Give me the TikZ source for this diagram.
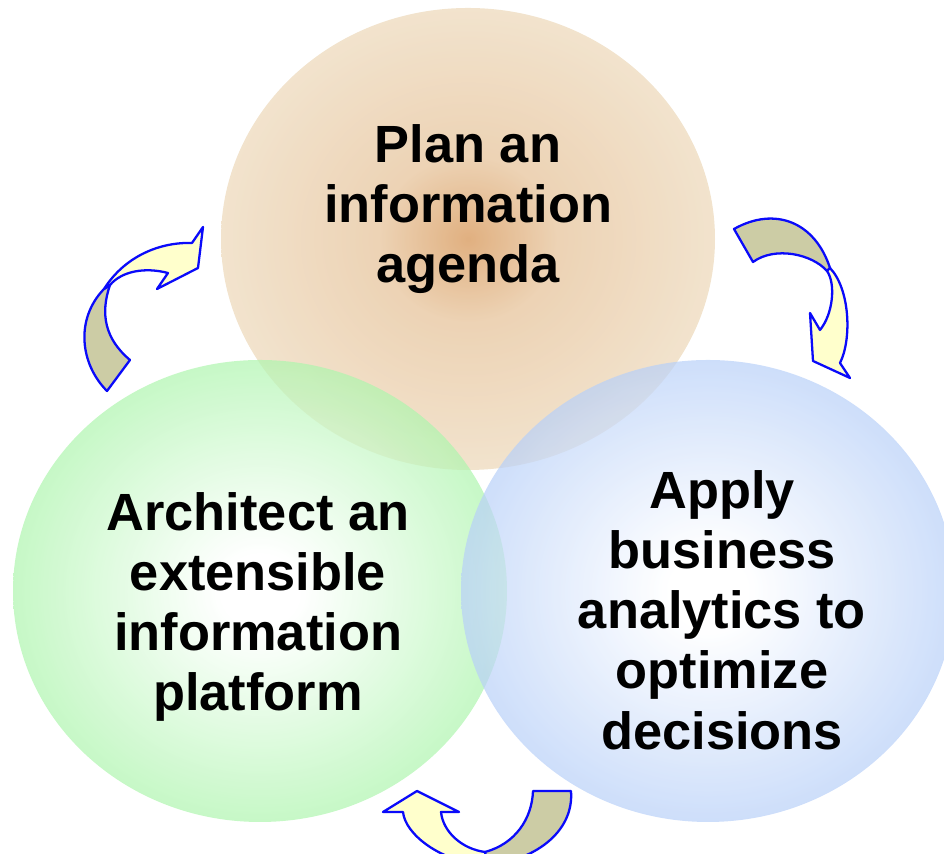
\documentclass[tikz,border=0pt]{standalone}
\usepackage{fontspec}
\setmainfont{Liberation Sans}

\definecolor{agendacore}{RGB}{211,142,74}
\definecolor{agendamid}{RGB}{229,192,149}
\definecolor{agendaedge}{RGB}{236,215,184}
\definecolor{platformedge}{RGB}{174,245,174}
\definecolor{analyticsedge}{RGB}{184,208,248}
\definecolor{bandkhaki}{RGB}{204,204,165}
\definecolor{bandyellow}{RGB}{255,255,204}
\definecolor{bandblue}{RGB}{10,10,250}

\pgfdeclareradialshading{agendaglow}{\pgfpoint{0bp}{0bp}}{color(0bp)=(agendacore); color(9bp)=(agendamid); color(25bp)=(agendaedge); color(50bp)=(agendaedge)}
\pgfdeclareradialshading{platformglow}{\pgfpoint{0bp}{0bp}}{color(0bp)=(white); color(4bp)=(white); color(25bp)=(platformedge); color(50bp)=(platformedge)}
\pgfdeclareradialshading{analyticsglow}{\pgfpoint{0bp}{0bp}}{color(0bp)=(white); color(4bp)=(white); color(25bp)=(analyticsedge); color(50bp)=(analyticsedge)}

\tikzset{
    bubble/.style={opacity=0.7},
    stagetext/.style={font=\fontsize{29.8}{34.3}\selectfont\bfseries, align=center, inner sep=0pt},
    backband/.style={fill=bandkhaki, draw=bandblue, line width=1.3pt, line join=round},
    frontband/.style={fill=bandyellow, draw=bandblue, line width=1.3pt, line join=round}
}

\begin{document}
\begin{tikzpicture}[x=0.02cm, y=0.02cm]
    \useasboundingbox (0,0) rectangle (944,854);

    % Three overlapping stages
    \shade[bubble, shading=agendaglow] (468,615) ellipse [x radius=247, y radius=231];
    \shade[bubble, shading=platformglow] (260,263) ellipse [x radius=247, y radius=231];
    \shade[bubble, shading=analyticsglow] (708,263) ellipse [x radius=247, y radius=231];

    \node[stagetext] (agenda) at (468,645) {Plan an\\information\\agenda};
    \node[stagetext] (platform) at (258,247) {Architect an\\extensible\\information\\platform};
    \node[stagetext] (analytics) at (722,244) {Apply\\business\\analytics to\\optimize\\decisions};

    % Curved arrow: platform to agenda
    \filldraw[backband] (107,463) .. controls (80,490) and (75,535) .. (104,565) -- (110,569)
        .. controls (100,540) and (105,515) .. (130,494) -- cycle;
    \filldraw[frontband] (104,565) .. controls (125,598) and (160,612) .. (192,611) -- (203,627)
        -- (198,586) -- (157,565) -- (168,581) .. controls (145,587) and (122,583) .. (110,569) -- cycle;

    % Curved arrow: agenda to analytics
    \filldraw[backband] (734,625) .. controls (775,648) and (815,632) .. (830,586) -- (827,583)
        .. controls (812,600) and (775,608) .. (753,592) -- cycle;
    \filldraw[frontband] (830,586) .. controls (850,565) and (852,515) .. (840,491) -- (850,476)
        -- (813,493) -- (810,541) -- (820,524) .. controls (833,540) and (836,570) .. (827,583) -- cycle;

    % Curved arrow: analytics to platform
    \filldraw[backband] (533,63) -- (571,63) .. controls (574,25) and (540,-5) .. (487,-12) -- (485,2)
        .. controls (515,10) and (532,35) .. (533,63) -- cycle;
    \filldraw[frontband] (485,2) .. controls (462,5) and (443,22) .. (441,42) -- (459,42)
        -- (417,63) -- (383,42) -- (403,42) .. controls (405,20) and (440,-8) .. (487,-12) -- cycle;
\end{tikzpicture}
\end{document}
